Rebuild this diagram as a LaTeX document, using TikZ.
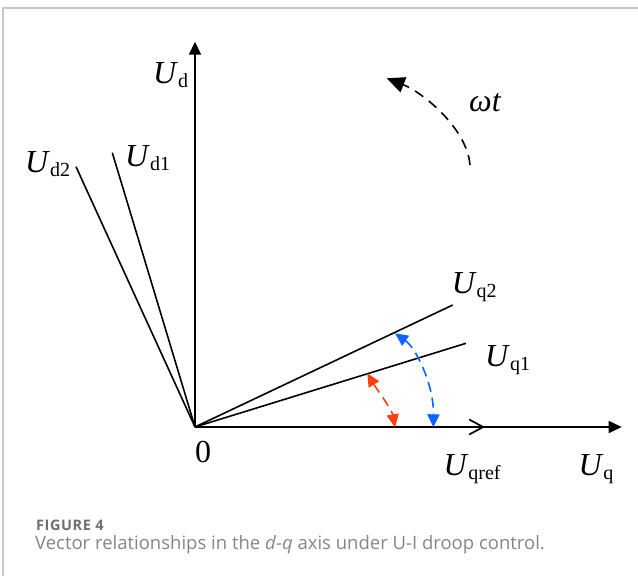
\documentclass[tikz,border=0pt]{standalone}
\usepackage{fontspec}
\setmainfont{Liberation Serif}
\newfontfamily\capfont{Open Sans}
\newfontfamily\capfontsp[LetterSpace=4]{Open Sans}
\usetikzlibrary{arrows.meta}
\definecolor{framegray}{HTML}{C8C8C8}
\definecolor{capgrayA}{HTML}{6E6E6E}
\definecolor{capgrayB}{HTML}{858585}
\definecolor{redarr}{HTML}{FF3D0F}
\definecolor{bluearr}{HTML}{0A64FF}
\newcommand{\vlab}[2]{\textit{#1}\raisebox{-4pt}{\fontsize{20}{22}\selectfont #2}}
\tikzset{
  axisline/.style={line width=1.7pt, -{Triangle[length=13pt,width=12pt]}},
  vecline/.style={line width=1.6pt},
  lbl/.style={anchor=base west, inner sep=0pt, font=\fontsize{32}{36}\selectfont},
  angarrow/.style={line width=1.6pt, dash pattern=on 10pt off 6pt,
    {Triangle[length=13pt,width=12pt]}-{Triangle[length=13pt,width=12pt]}},
  rotarrow/.style={line width=1.6pt, dash pattern=on 10pt off 7pt,
    -{Triangle[length=18pt,width=16pt]}},
  framel/.style={framegray, line width=1.5pt},
  capA/.style={anchor=base west, inner sep=0pt, text=capgrayA, font=\capfontsp\bfseries\fontsize{14.5}{16}\selectfont},
  capB/.style={anchor=base west, inner sep=0pt, text=capgrayB, font=\capfont\fontsize{18.5}{21}\selectfont},
}
\begin{document}
\begin{tikzpicture}[x=1pt,y=-1pt]
\useasboundingbox (0,0) rectangle (638,576);
% frame
\coordinate (fBL) at (3,576);
\coordinate (fTL) at (3,8);
\coordinate (fTR) at (638,8);
\draw[framel] (fBL) -- (fTL) -- (fTR);
% points
\coordinate (O) at (195,427);
\coordinate (UdTip) at (195,41.7);
\coordinate (UqTip) at (621.7,427);
\coordinate (Uref) at (485,427);
\coordinate (Ud1) at (112.3,152.7);
\coordinate (Ud2) at (76,166.7);
\coordinate (Uq1) at (466,343.3);
\coordinate (Uq2) at (452.7,305);
% axes and vectors
\draw[axisline] (O) -- (UdTip);
\draw[axisline] (O) -- (UqTip);
\draw[line width=1.7pt, -{Straight Barb[length=14pt,width=15pt]}] (O) -- (Uref);
\draw[vecline] (O) -- (Ud1);
\draw[vecline] (O) -- (Ud2);
\draw[vecline] (O) -- (Uq1);
\draw[vecline] (O) -- (Uq2);
% rotation arrow
\coordinate (wS) at (470,165);
\coordinate (wE) at (386.7,78.3);
\draw[rotarrow] (wS) .. controls (467,128) and (422,92) .. (wE);
% angle arrows
\coordinate (r1) at (367.3,373.3);
\coordinate (r2) at (395,427.3);
\draw[angarrow, redarr] (r1) .. controls (376,388) and (392,410) .. (r2);
\coordinate (b1) at (395,333.3);
\coordinate (b2) at (433.3,427.3);
\draw[angarrow, bluearr] (b1) .. controls (416,348) and (434,385) .. (b2);
% labels
\node[lbl] (lUd) at (153,83) {\vlab{U}{d}};
\node[lbl] (lUd2) at (25,172.7) {\vlab{U}{d2}};
\node[lbl] (lUd1) at (125,166) {\vlab{U}{d1}};
\node[lbl] (lwt) at (469,111.7) {\textit{ωt}};
\node[lbl] (lUq2) at (451.7,293.3) {\vlab{U}{q2}};
\node[lbl] (lUq1) at (485,366) {\vlab{U}{q1}};
\node[lbl] (l0) at (195,462.7) {0};
\node[lbl] (lUqref) at (443.3,475) {\vlab{U}{qref}};
\node[lbl] (lUq) at (578.3,475) {\vlab{U}{q}};
% caption
\node[capA] (fig) at (36,530) {FIGURE 4};
\node[capB] (cap) at (35,549) {Vector relationships in the \textit{d}-\textit{q} axis under U-I droop control.};
\end{tikzpicture}
\end{document}
